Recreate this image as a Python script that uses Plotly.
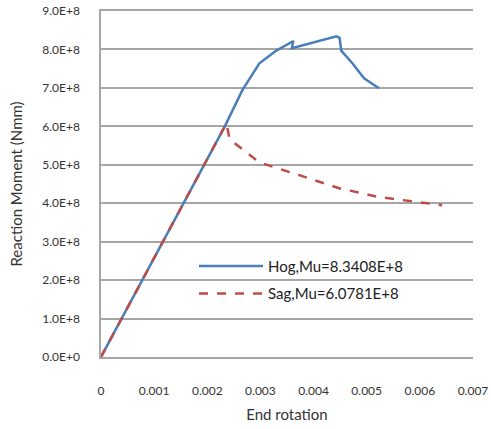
import plotly.graph_objects as go

hog_x = [0, 0.00233, 0.00266, 0.00289, 0.00298, 0.0033, 0.00355, 0.00362, 0.00359, 0.00400, 0.00443, 0.00449, 0.00452, 0.00473, 0.00495, 0.00523]
hog_y = [0, 6.0e8, 6.94e8, 7.45e8, 7.64e8, 7.97e8, 8.18e8, 8.22e8, 8.03e8, 8.18e8, 8.3408e8, 8.30e8, 7.97e8, 7.64e8, 7.25e8, 6.99e8]

sag_x = [0, 0.00236, 0.00242, 0.00298, 0.00373, 0.00448, 0.00523, 0.00642]
sag_y = [0, 6.0781e8, 5.66e8, 5.06e8, 4.73e8, 4.39e8, 4.16e8, 3.95e8]

y_ticks = [0, 1e8, 2e8, 3e8, 4e8, 5e8, 6e8, 7e8, 8e8, 9e8]
y_labels = ["0.0E+0", "1.0E+8", "2.0E+8", "3.0E+8", "4.0E+8", "5.0E+8", "6.0E+8", "7.0E+8", "8.0E+8", "9.0E+8"]
x_ticks = [0, 0.001, 0.002, 0.003, 0.004, 0.005, 0.006, 0.007]
x_labels = ["0", "0.001", "0.002", "0.003", "0.004", "0.005", "0.006", "0.007"]

fig = go.Figure()
fig.add_trace(go.Scatter(x=hog_x, y=hog_y, mode="lines", name="Hog,Mu=8.3408E+8",
                         legendgroup="hog",
                         line=dict(color="#4a7ebb", width=2.5)))
fig.add_trace(go.Scatter(x=sag_x, y=sag_y, mode="lines", name="Sag,Mu=6.0781E+8",
                         legendgroup="sag",
                         line=dict(color="#be4b48", width=2.5, dash="dash")))

GRID = "#a6a6a6"
fig.update_layout(
    width=491, height=429,
    margin=dict(l=101, r=18, t=11, b=72, autoexpand=False),
    paper_bgcolor="white", plot_bgcolor="white",
    font=dict(family="Lato, Open Sans, sans-serif", color="#333333"),
    showlegend=True,
    legend=dict(x=0.25, y=0.31, xanchor="left", yanchor="top",
                bgcolor="rgba(255,255,255,0)", font=dict(size=15, color="#222222"),
                traceorder="grouped", tracegroupgap=5, itemwidth=64),
    xaxis=dict(range=[0, 0.007], tickvals=x_ticks, ticktext=x_labels,
               showgrid=False, zeroline=False, showline=True, mirror=True,
               linecolor=GRID, linewidth=1.5, automargin=False,
               tickfont=dict(size=12), ticklabelstandoff=22,
               title=dict(text="End rotation", font=dict(size=15), standoff=12)),
    yaxis=dict(range=[0, 9e8], tickvals=y_ticks, ticktext=y_labels,
               showgrid=True, gridcolor=GRID, gridwidth=1.5, automargin=False,
               zeroline=False, showline=True, linecolor=GRID, linewidth=1.5,
               tickfont=dict(size=12), ticklabelstandoff=17,
               title=dict(text="Reaction Moment (Nmm)", font=dict(size=15), standoff=16)),
)

fig.write_html("out.html", config={"displayModeBar": False},
               post_script="document.body.style.margin='0';document.body.style.overflow='hidden';")
